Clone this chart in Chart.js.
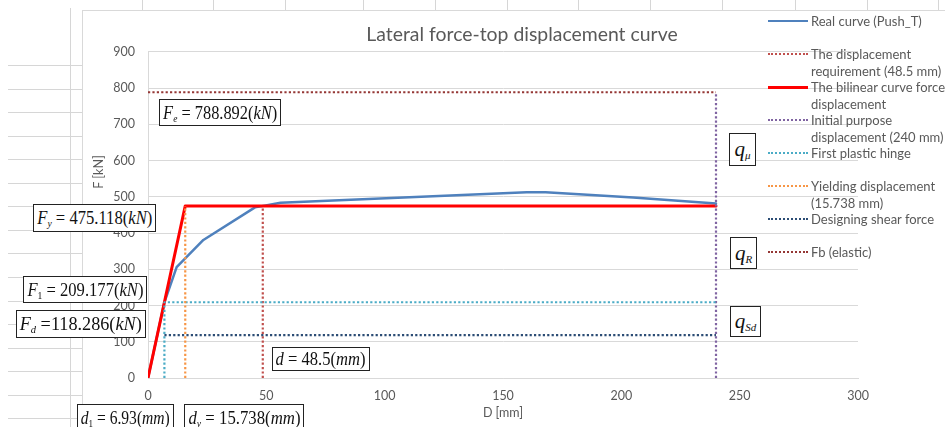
<!DOCTYPE html>
<html><head><meta charset="utf-8">
<script src="https://cdn.jsdelivr.net/npm/chart.js@4.4.1/dist/chart.umd.min.js"></script>
<style>
html,body{margin:0;padding:0;background:#fff;}
body{width:945px;height:427px;position:relative;overflow:hidden;font-family:Lato,"Liberation Sans",sans-serif;}
.hl{position:absolute;height:1px;background:#d6d6d6;}
.vl{position:absolute;width:1px;background:#d6d6d6;}
#c{position:absolute;left:82px;top:10px;}
#frame{position:absolute;left:82px;top:10px;width:863px;height:417px;border-left:1px solid #d9d9d9;border-top:1px solid #d9d9d9;box-sizing:border-box;pointer-events:none;}
.li{position:absolute;left:0;height:33px;width:180px;}
.sw{position:absolute;left:0;width:40px;height:0;}
.lt{position:absolute;left:43px;top:7.5px;line-height:17px;font-size:13px;color:#595959;white-space:pre;}
.ann{position:absolute;box-sizing:border-box;border:1px solid #222;background:#fff;font-family:"Liberation Serif","Times New Roman",serif;font-size:19px;color:#111;display:flex;align-items:center;justify-content:center;white-space:nowrap;overflow:visible;}
.ann .in{display:inline-block;transform-origin:50% 50%;}
.ann sub{font-size:11px;vertical-align:-3px;line-height:0;}
.ann.q{font-size:21px;}
#ytitle{position:absolute;left:98px;top:172px;transform:translate(-50%,-50%) rotate(-90deg);font-size:12.5px;color:#595959;white-space:nowrap;}
</style></head>
<body>
<div id="bg"></div>
<canvas id="c" width="863" height="417"></canvas>
<div id="frame"></div>
<div id="ytitle">F [kN]</div>
<div id="legend" style="position:absolute;left:768px;top:0;width:177px;height:300px;"></div>
<div id="anns"></div>
<script>
// ---- key values ----
const Fe = 788.892, Fy = 475.118, F1 = 209.177, Fd = 118.286;
const dReq = 48.5, d1 = 6.93, dy = 15.738, dTarget = 240;

// ---- series ----
const seriesNames = [
  "Real curve (Push_T)",
  "The displacement\nrequirement (48.5 mm)",
  "The bilinear curve force-\ndisplacement",
  "Initial purpose\ndisplacement (240 mm)",
  "First plastic hinge",
  "Yielding displacement\n(15.738 mm)",
  "Designing shear force",
  "Fb (elastic)"
];
const realX = [0, 6.93, 12.1, 23.4, 45.2, 56, 160, 168, 205, 240];
const realY = [0, 209, 306, 381, 471, 484, 513, 513, 498, 482];
const bilinX = [0, dy, dTarget];
const bilinY = [0, Fy, Fy];
const reqX = [dReq, dReq];
const reqY = [0, Fy];
const targetX = [dTarget, dTarget];
const targetY = [0, Fe];
const hingeX = [d1, d1, dTarget];
const hingeY = [0, F1, F1];
const yieldX = [dy, dy];
const yieldY = [0, Fy];
const shearX = [d1, dTarget];
const shearY = [Fd, Fd];
const elasticX = [0, dTarget];
const elasticY = [Fe, Fe];

const xTicks = [0, 50, 100, 150, 200, 250, 300];
const yTicks = [0, 100, 200, 300, 400, 500, 600, 700, 800, 900];

const seriesX = [realX, reqX, bilinX, targetX, hingeX, yieldX, shearX, elasticX];
const seriesY = [realY, reqY, bilinY, targetY, hingeY, yieldY, shearY, elasticY];
const colors = ['#4f81bd', '#c0504d', '#ff0000', '#8064a2', '#4bacc6', '#f79646', '#2c4d75', '#953735'];
const widths = [2.5, 2.2, 3, 2.2, 2.2, 2.2, 2.2, 2.2];
const dashed = [false, true, false, true, true, true, true, true];

// ---- spreadsheet background ----
const bg = document.getElementById('bg');
for (let y = 65; y < 427; y += 23.55) {
  const d = document.createElement('div'); d.className = 'hl';
  d.style.left = '8px'; d.style.width = '74px'; d.style.top = Math.round(y) + 'px'; bg.appendChild(d);
}
{ const d = document.createElement('div'); d.className = 'vl'; d.style.left = '70px'; d.style.top = '8px'; d.style.height = '419px'; bg.appendChild(d); }
[142, 213, 285, 363, 435, 507, 578, 650, 722, 795, 867, 938].forEach(x => {
  const d = document.createElement('div'); d.className = 'vl'; d.style.left = x + 'px'; d.style.top = '0px'; d.style.height = '10px'; bg.appendChild(d);
});

// ---- chart ----
const n = seriesNames.length;
const datasets = seriesNames.map((name, i) => ({
  label: name.replace('\n', ' '),
  data: seriesX[i].map((x, j) => ({x: x, y: seriesY[i][j]})),
  borderColor: colors[i],
  backgroundColor: colors[i],
  borderWidth: widths[i],
  borderDash: dashed[i] ? [2.2, 2.2] : [],
  borderJoinStyle: 'round',
  borderCapStyle: dashed[i] ? 'butt' : 'round',
  pointRadius: 0,
  showLine: true,
  fill: false,
  tension: 0,
  order: n - i
}));
const tickFont = {family: 'Lato', size: 12.5};
new Chart(document.getElementById('c'), {
  type: 'scatter',
  data: {datasets: datasets},
  options: {
    responsive: false, animation: false, devicePixelRatio: 1,
    layout: {padding: {left: 17, right: 0, top: 0, bottom: 0}},
    plugins: {
      legend: {display: false}, tooltip: {enabled: false},
      title: {display: true, text: 'Lateral force-top displacement curve', color: '#595959',
        font: {family: 'Lato', size: 19.4, weight: 'normal'}, padding: {top: 13.4, bottom: 5.3}}
    },
    scales: {
      x: {type: 'linear', position: 'bottom', min: xTicks[0], max: xTicks[xTicks.length - 1],
        afterBuildTicks: s => { s.ticks = xTicks.map(v => ({value: v})); },
        ticks: {color: '#595959', font: tickFont, padding: 10, maxRotation: 0},
        grid: {display: false, drawTicks: false},
        border: {display: true, color: '#d9d9d9', width: 1},
        title: {display: true, text: 'D [mm]', color: '#595959', font: tickFont, padding: {top: 0, bottom: 7}},
        afterFit: s => { s.height = 49; }
      },
      y: {type: 'linear', position: 'left', min: yTicks[0], max: yTicks[yTicks.length - 1],
        afterBuildTicks: s => { s.ticks = yTicks.map(v => ({value: v})); },
        ticks: {color: '#595959', font: tickFont, padding: 13},
        grid: {color: '#d9d9d9', lineWidth: 1, drawTicks: false},
        border: {display: true, color: '#d9d9d9', width: 1},
        afterFit: s => { s.width = 49; }
      },
      y2: {type: 'linear', position: 'right', display: true,
        grid: {display: false, drawTicks: false}, ticks: {display: false}, border: {display: false},
        afterFit: s => { s.width = 87; }
      }
    }
  }
});

// ---- legend ----
const lg = document.getElementById('legend');
seriesNames.forEach((name, i) => {
  const it = document.createElement('div'); it.className = 'li'; it.style.top = (5 + 33 * i) + 'px';
  const sw = document.createElement('span'); sw.className = 'sw';
  if (dashed[i]) { sw.style.borderTop = '2px dotted ' + colors[i]; sw.style.top = '15px'; }
  else { sw.style.borderTop = widths[i] + 'px solid ' + colors[i]; sw.style.top = (16 - widths[i] / 2) + 'px'; }
  const t = document.createElement('span'); t.className = 'lt'; t.textContent = name;
  it.appendChild(sw); it.appendChild(t); lg.appendChild(it);
});

// ---- annotation boxes ----
const anns = [
  {l: 159, t: 99, w: 122, h: 27, html: `<i>F</i><sub><i>e</i></sub>&nbsp;= ${Fe.toFixed(3)}(<i>kN</i>)`},
  {l: 33, t: 204, w: 123, h: 28, html: `<i>F</i><sub><i>y</i></sub>&nbsp;= ${Fy.toFixed(3)}(<i>kN</i>)`},
  {l: 23, t: 276, w: 124, h: 27, html: `<i>F</i><sub>1</sub>&nbsp;= ${F1.toFixed(3)}(<i>kN</i>)`},
  {l: 16, t: 310, w: 130, h: 28, html: `<i>F</i><sub><i>d</i></sub>&nbsp;=${Fd.toFixed(3)}(<i>kN</i>)`},
  {l: 272, t: 347, w: 98, h: 24, html: `<i>d</i>&nbsp;= ${dReq}(<i>mm</i>)`},
  {l: 77, t: 404, w: 97, h: 27, html: `<i>d</i><sub>1</sub>&nbsp;= ${d1}(<i>mm</i>)`},
  {l: 184, t: 404, w: 120, h: 27, html: `<i>d</i><sub><i>y</i></sub>&nbsp;= ${dy}(<i>mm</i>)`},
  {l: 729, t: 133, w: 27, h: 33, q: true, html: `<i>q</i><sub><i>μ</i></sub>`},
  {l: 730, t: 237, w: 27, h: 32, q: true, html: `<i>q</i><sub><i>R</i></sub>`},
  {l: 730, t: 306, w: 31, h: 31, q: true, html: `<i>q</i><sub><i>Sd</i></sub>`}
];
const ad = document.getElementById('anns');
anns.forEach(a => {
  const d = document.createElement('div'); d.className = 'ann' + (a.q ? ' q' : '');
  d.style.left = a.l + 'px'; d.style.top = a.t + 'px'; d.style.width = a.w + 'px'; d.style.height = a.h + 'px';
  const s = document.createElement('span'); s.className = 'in'; s.innerHTML = a.html;
  d.appendChild(s); ad.appendChild(d);
  const avail = a.w - (a.q ? 5 : 8);
  const wNow = s.getBoundingClientRect().width;
  if (wNow > avail) s.style.transform = 'scaleX(' + (avail / wNow).toFixed(3) + ')';
});
</script>
</body></html>
